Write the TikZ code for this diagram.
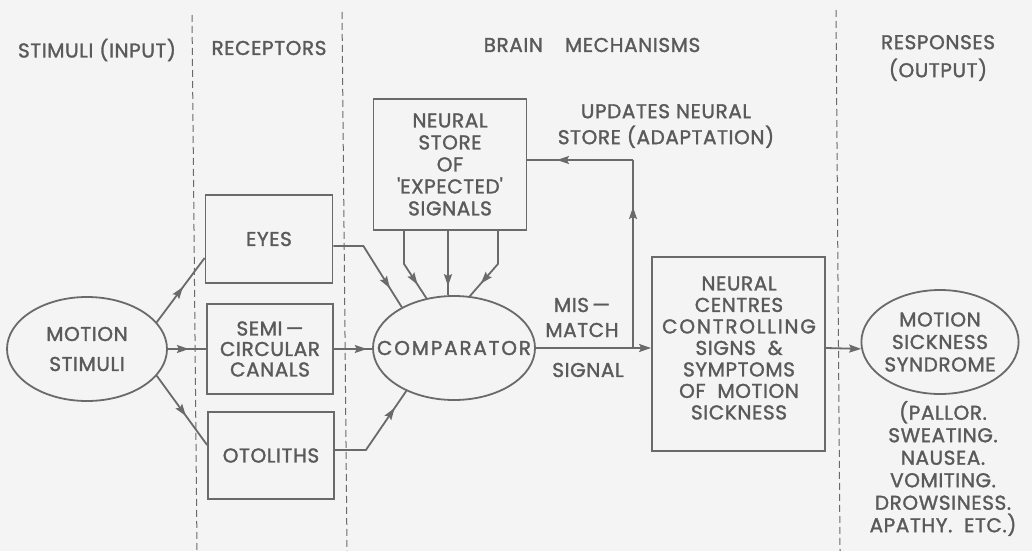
\documentclass[tikz,border=0pt]{standalone}
\usepackage{fontspec}
\setmainfont{Poppins}[FakeBold=1.5,LetterSpace=3]
\usetikzlibrary{arrows.meta,shapes.geometric,decorations.markings}
\definecolor{bg}{HTML}{F4F4F4}
\definecolor{ink}{HTML}{6A6A6A}
\definecolor{txt}{HTML}{5A5A5A}
\newcommand{\wide}[1]{{\addfontfeature{LetterSpace=9}#1}}
\begin{document}
\begin{tikzpicture}[x=1pt,y=-1pt,
  every node/.style={text=txt, font=\fontsize{20}{21.5}\selectfont, align=center, inner sep=0pt},
  box/.style={draw=ink, line width=1.8pt},
  oval/.style={ellipse, draw=ink, line width=1.8pt, inner sep=0pt},
  conn/.style={draw=ink, line width=1.8pt, line join=miter},
  tip/.style={-{Stealth[length=12pt,width=8pt,inset=2pt]}},
  midarrow/.style={postaction={decorate}, decoration={markings, mark=at position #1 with {\arrow{Stealth[length=12pt,width=8pt,inset=2pt]}}}},
  sep/.style={draw=ink, line width=1pt, dash pattern=on 7pt off 4pt}
]
\useasboundingbox (0,0) rectangle (1032,551);
\fill[bg] (0,0) rectangle (1032,551);

% separators
\draw[sep] (192,15) -- (197,551);
\draw[sep] (342,12) -- (347,551);
\draw[sep] (836,10) -- (840,551);

% headings
\node (h1) at (97,50) {STIMULI (INPUT)};
\node (h2) at (269,48) {RECEPTORS};
\node (h3) at (592,45) {BRAIN\hspace{1.1em}MECHANISMS};
\node (h4) at (938,58) {RESPONSES\\[6.5pt](OUTPUT)};

% nodes
\node[oval, minimum width=160, minimum height=104] (ms) at (87,349) {MOTION\\[8.5pt]STIMULI};
\node[box, minimum width=127, minimum height=88] (eyes) at (269,239) {EYES};
\node[box, minimum width=126, minimum height=90] (semi) at (270,349) {SEMI\,—\\[-1pt]CIRCULAR\\[-1pt]CANALS};
\node[box, minimum width=126, minimum height=87] (oto) at (271,455.5) {OTOLITHS};
\node[box, minimum width=153, minimum height=131] (store) at (450,164.5) {NEURAL\\[0.5pt]STORE\\[0.5pt]OF\\[0.5pt]\textquotesingle EXPECTED\textquotesingle\\[0.5pt]SIGNALS};
\node[oval, minimum width=162, minimum height=104] (comp) at (454,348) {};
\node (compt) at (comp.center) {\wide{COMPARATOR}};
\node[box, minimum width=173, minimum height=194] (nc) at (738.5,354) {};
\node (nct) at (739,348) {NEURAL\\CENTRES\\\wide{CONTROLLING}\\SIGNS\ \ \&\\SYMPTOMS\\OF\ \ MOTION\\SICKNESS};
\node[oval, minimum width=156, minimum height=104] (mss) at (940,342) {MOTION\\[1pt]SICKNESS\\[1pt]SYNDROME};
\node (list) at (943,468.5) {(PALLOR.\\[1pt]SWEATING.\\[1pt]NAUSEA.\\[1pt]VOMITING.\\[1pt]DROWSINESS.\\[1pt]APATHY.\ \ ETC.)};

% labels
\node (mis) at (582,305) {MIS\,—};
\node (match) at (582,330) {MATCH};
\node (signal) at (588,370) {SIGNAL};
\node (upd) at (666,126) {UPDATES NEURAL\\[4.5pt]STORE (ADAPTATION)};

% connectors
\draw[conn, midarrow=0.55] (ms.21) -- ([yshift=-19pt]eyes.west);
\draw[conn, midarrow=0.55] (ms.east) -- (ms.east -| semi.west);
\draw[conn, midarrow=0.58] (ms.-21) -- ([yshift=10.5pt]oto.west);

\draw[conn, midarrow=0.78] ([yshift=-7pt]eyes.east) -- ++(30,0) -- (comp.142);
\draw[conn, midarrow=0.86] (semi.east) -- (semi.east -| comp.west);
\draw[conn, midarrow=0.8] ([yshift=5.5pt]oto.east) -- ++(31,0) -- (comp.-138);

\draw[conn, midarrow=0.78] ([xshift=-46pt]store.south) -- ++(0,33) -- (comp.119);
\draw[conn, midarrow=0.86] ([xshift=-2pt]store.south) -- ([xshift=-2pt]store.south |- comp.north);
\draw[conn, midarrow=0.78] ([xshift=48pt]store.south) -- ++(0,33) -- (comp.73);

\draw[conn, tip] (comp.east) -- (comp.east -| nc.west);
\coordinate (fb) at (633,348);
\coordinate (fbtop) at (633,160);
\draw[conn, midarrow=0.75] (fb) -- (fbtop);
\draw[conn, midarrow=0.72] (fbtop) -- (fbtop -| store.east);

\draw[conn, tip] ([yshift=6pt]nc.east) -- (mss.-175);
\end{tikzpicture}
\end{document}
